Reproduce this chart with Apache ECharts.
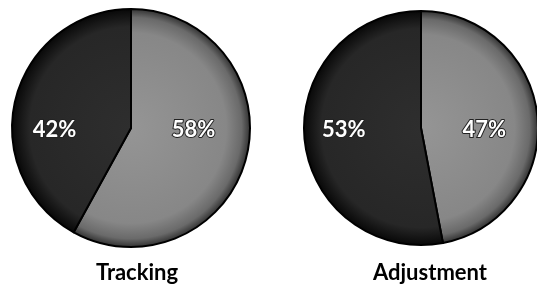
<!DOCTYPE html>
<html>
<head>
<meta charset="utf-8">
<script src="https://cdn.jsdelivr.net/npm/echarts@6/dist/echarts.min.js"></script>
<style>
  html, body { margin: 0; padding: 0; background: #fff; }
  #main { width: 537px; height: 288px; }
</style>
</head>
<body>
<div id="main"></div>
<script>
// slice order: light part first (clockwise from 12 o'clock), then dark part
const sliceNames = ['Light', 'Dark']
const trackingValues = [58, 42]
const adjustmentValues = [47, 53]
const chartTitles = ['Tracking', 'Adjustment']

const chart = echarts.init(document.getElementById('main'))

// gradient in page coordinates so the whole pie shades as one disc
function sliceColor(i, c, r) {
  if (i === 0) {
    return new echarts.graphic.RadialGradient(c[0], c[1], r, [
      { offset: 0, color: '#959595' },
      { offset: 0.8, color: '#878787' },
      { offset: 0.93, color: '#6a6a6a' },
      { offset: 1, color: '#333' }
    ], true)
  }
  return new echarts.graphic.RadialGradient(c[0], c[1], r, [
    { offset: 0, color: '#2e2e2e' },
    { offset: 0.85, color: '#272727' },
    { offset: 1, color: '#080808' }
  ], true)
}

function pieSeries(values, center, radius) {
  return {
    type: 'pie',
    center: center,
    radius: radius,
    startAngle: 90,
    clockwise: true,
    silent: true,
    data: values.map((v, i) => ({
      name: sliceNames[i],
      value: v,
      itemStyle: { color: sliceColor(i, center, radius) }
    })),
    itemStyle: { borderColor: '#000', borderWidth: 2 },
    label: {
      show: true,
      position: 'inside',
      formatter: '{c}%',
      color: '#fff',
      fontFamily: 'Lato',
      fontWeight: 'bold',
      fontSize: 22,
      textBorderColor: '#222',
      textBorderWidth: 2
    },
    labelLine: { show: false },
    labelLayout: function (params) {
      return { y: 130, dx: params.dataIndex === 1 ? -16 : 2 }
    }
  }
}

chart.setOption({
  animation: false,
  title: [
    {
      text: chartTitles[0], left: 132, top: 257, textAlign: 'center',
      textStyle: { fontFamily: 'Lato', fontWeight: 'bold', fontSize: 22, color: '#000' }
    },
    {
      text: chartTitles[1], left: 425, top: 257, textAlign: 'center',
      textStyle: { fontFamily: 'Lato', fontWeight: 'bold', fontSize: 22, color: '#000' }
    }
  ],
  series: [
    pieSeries(trackingValues, [131, 128], 119),
    pieSeries(adjustmentValues, [421, 128], 117)
  ]
})
</script>
</body>
</html>
